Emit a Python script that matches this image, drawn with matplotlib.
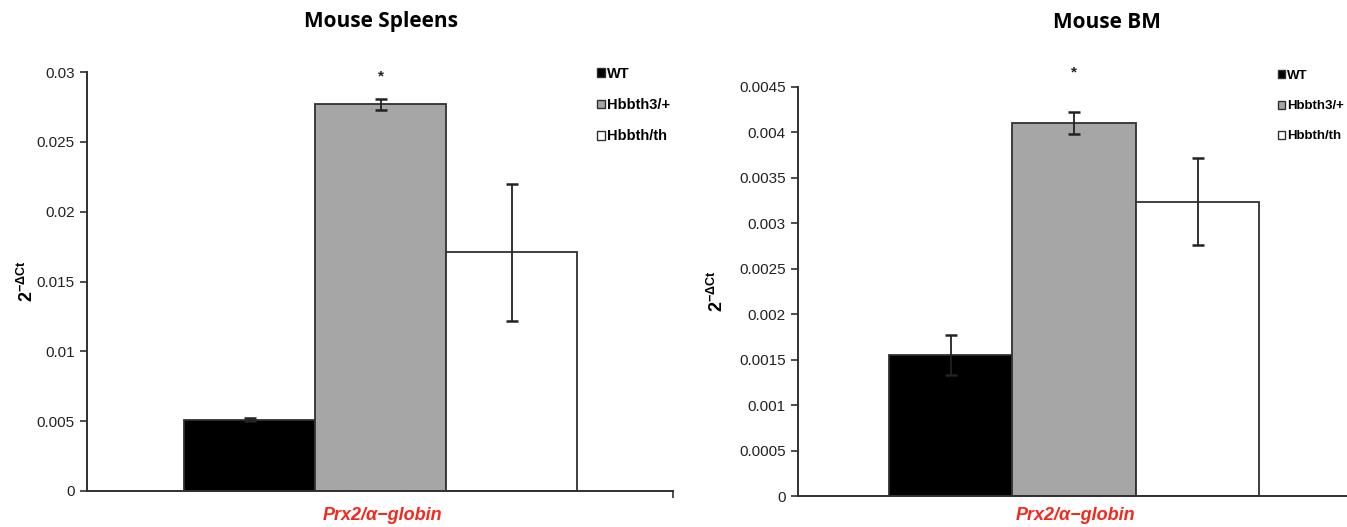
import matplotlib
matplotlib.use("Agg")
import matplotlib.pyplot as plt
import numpy as np

plt.rcParams['font.family'] = ['Liberation Sans', 'DejaVu Sans']
plt.rcParams['mathtext.fontset'] = 'custom'
plt.rcParams['mathtext.rm'] = 'Liberation Sans'
plt.rcParams['mathtext.bf'] = 'Liberation Sans:bold'
plt.rcParams['mathtext.it'] = 'Liberation Sans:italic'

groups = ["WT", "Hbbth3/+", "Hbbth/th"]
colors = ["#000000", "#a6a6a6", "#ffffff"]

spleen_vals = [0.0051, 0.0277, 0.0171]
spleen_err = [0.0001, 0.0004, 0.0049]
spleen_ticks = [0, 0.005, 0.01, 0.015, 0.02, 0.025, 0.03]

bm_vals = [0.00155, 0.00410, 0.00324]
bm_err = [0.00022, 0.00012, 0.00048]
bm_ticks = [0, 0.0005, 0.001, 0.0015, 0.002, 0.0025, 0.003, 0.0035, 0.004, 0.0045]

titles = ["Mouse Spleens", "Mouse BM"]
xlabel = "Prx2/\u03b1\u2212globin"
ylabel = r'$\mathbf{2}^{\mathbf{-\Delta Ct}}$'

W, H = 1347, 527
fig = plt.figure(figsize=(W / 100, H / 100), dpi=100)

def px_rect(x0, y0, x1, y1):
    return [x0 / W, 1 - y1 / H, (x1 - x0) / W, (y1 - y0) / H]

ax1 = fig.add_axes(px_rect(87, 72, 673, 491))
ax2 = fig.add_axes(px_rect(798, 87, 1347, 496))

edge = "#303030"

def draw(ax, vals, errs, ticks, xlim, star_off, ylab_x, xlab_y, leg_anchor, leg_size,
         leg_spacing, title, title_xy, end_tick):
    x = np.arange(len(vals))
    for i in range(len(vals)):
        ax.bar(x[i], vals[i], width=1.0, color=colors[i], edgecolor=edge,
               linewidth=1.3, label=groups[i], zorder=2)
    ax.errorbar(x, vals, yerr=errs, fmt='none', ecolor="#222222", elinewidth=1.3,
                capsize=4, capthick=1.8, zorder=3)
    ax.annotate("*", xy=(x[1], vals[1] + errs[1]), xytext=(0, star_off),
                textcoords='offset pixels', ha='center', va='center',
                fontsize=11, fontweight='bold', color="#222222")
    ax.set_ylim(ticks[0], ticks[-1])
    ax.set_yticks(ticks)
    ax.set_yticklabels([f"{t:g}" for t in ticks], fontsize=11, color="#222222")
    ax.set_xlim(*xlim)
    if end_tick:
        ax.set_xticks([xlim[1]])
        ax.set_xticklabels([""])
    else:
        ax.set_xticks([])
    ax.tick_params(axis='y', direction='out', length=5, width=1.2, color=edge, pad=4)
    ax.tick_params(axis='x', direction='out', length=5, width=1.2, color=edge)
    for s in ['top', 'right']:
        ax.spines[s].set_visible(False)
    for s in ['left', 'bottom']:
        ax.spines[s].set_color(edge)
        ax.spines[s].set_linewidth(1.4)
    ax.set_ylabel(ylabel, fontsize=13)
    ax.yaxis.set_label_coords(ylab_x, 0.5)
    ax.set_xlabel(xlabel, fontsize=13, fontweight='bold', fontstyle='italic',
                  color="#f5281c", va='center')
    ax.xaxis.set_label_coords(0.505, xlab_y)
    leg = ax.legend(loc='upper left', bbox_to_anchor=(leg_anchor[0] / W, 1 - leg_anchor[1] / H),
                    bbox_transform=fig.transFigure, frameon=False,
                    prop={'weight': 'bold', 'size': leg_size},
                    handlelength=0.55, handleheight=0.55, handletextpad=0.15,
                    labelspacing=leg_spacing, borderpad=0, borderaxespad=0)
    for h in leg.legend_handles:
        h.set_linewidth(1.0)
    fig.text(title_xy[0] / W, 1 - title_xy[1] / H, title,
             ha='center', va='center', fontsize=15, fontweight='bold',
             family=['Open Sans', 'DejaVu Sans'])

draw(ax1, spleen_vals, spleen_err, spleen_ticks, (-1.244, 3.229), 22, -0.085, -0.058,
     (597, 67), 10.5, 1.18, titles[0], (381, 22), True)
draw(ax2, bm_vals, bm_err, bm_ticks, (-1.235, 3.21), 40, -0.129, -0.047,
     (1278, 70), 9.5, 1.38, titles[1], (1107, 22), False)

fig.savefig("out.png", dpi=100)
